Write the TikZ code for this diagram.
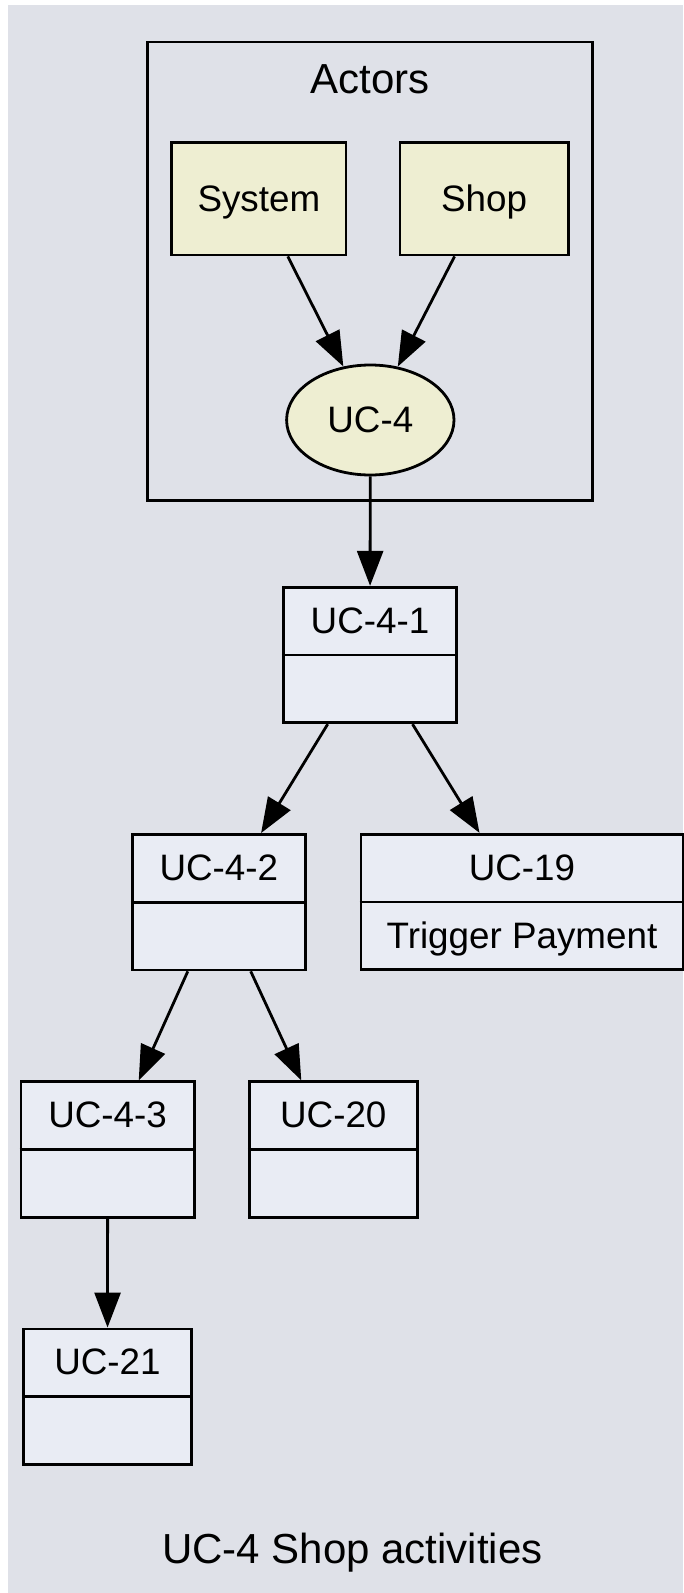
\documentclass[tikz,border=0pt]{standalone}
\usepackage{fontspec}
\setmainfont{Liberation Sans}
\usetikzlibrary{arrows.meta,shapes.geometric}
\definecolor{bgc}{HTML}{DFE1E8}
\definecolor{clsfill}{HTML}{E9ECF4}
\definecolor{actfill}{HTML}{EEEED2}
\begin{document}
\begin{tikzpicture}[x=1pt,y=-1pt,
  cls/.style={draw=black, line width=2.8pt, fill=clsfill, rectangle, inner sep=0pt, minimum height=135.5pt},
  actor/.style={draw=black, line width=2.8pt, fill=actfill, rectangle, inner sep=0pt, minimum height=112.3pt},
  txt/.style={anchor=base, inner sep=0pt, font=\fontsize{36.8pt}{40pt}\selectfont},
  big/.style={anchor=base, inner sep=0pt, font=\fontsize{42pt}{46pt}\selectfont},
  arr/.style={line width=2.8pt, -{Triangle[length=35pt,width=26pt]}},
  divider/.style={line width=2.8pt}]
\useasboundingbox (0,0) rectangle (683,1593);
\fill[bgc] (8,5) rectangle (683,1593);

% cluster
\node[draw=black, line width=2.8pt, rectangle, inner sep=0pt, minimum width=445.4pt, minimum height=458.6pt] (actors) at (370,271.3) {};
\node[big] (actorslbl) at (370,93.3) {Actors};

% actors
\node[actor, minimum width=174.3pt] (system) at (258.85,198.85) {};
\node[txt] (systemt) at (258.85,211) {System};
\node[actor, minimum width=168.3pt] (shop) at (484.15,198.85) {};
\node[txt] (shopt) at (484.15,211) {Shop};
\node[ellipse, draw=black, line width=2.8pt, fill=actfill, inner sep=0pt, minimum width=167.4pt, minimum height=110pt] (uc4) at (370.3,420) {};
\node[txt] (uc4t) at (370.3,432) {UC-4};

% classes
\node[cls, minimum width=173.4pt] (uc41) at (370,655) {};
\node[cls, minimum width=173pt] (uc42) at (218.8,902.2) {};
\node[cls, minimum width=322pt] (uc19) at (522,902) {};
\node[cls, minimum width=173.3pt] (uc43) at (107.65,1149.5) {};
\node[cls, minimum width=168pt] (uc20) at (333.3,1149.5) {};
\node[cls, minimum width=168.4pt] (uc21) at (107.5,1396.7) {};

\foreach \n in {uc41,uc42,uc19,uc43,uc20,uc21}
  \draw[divider] (\n.west) -- (\n.east);

\node[txt] (uc41t) at ([yshift=22pt]uc41.center) {UC-4-1};
\node[txt] (uc42t) at ([yshift=22pt]uc42.center) {UC-4-2};
\node[txt] (uc19t) at ([yshift=22pt]uc19.center) {UC-19};
\node[txt] (uc19b) at ([yshift=-46pt]uc19.center) {Trigger Payment};
\node[txt] (uc43t) at ([yshift=22pt]uc43.center) {UC-4-3};
\node[txt] (uc20t) at ([yshift=22pt]uc20.center) {UC-20};
\node[txt] (uc21t) at ([yshift=22pt]uc21.center) {UC-21};

% edges
\draw[arr] (system) -- (uc4);
\draw[arr] (shop) -- (uc4);
\draw[arr] (uc4) -- (uc41);
\draw[arr] (uc41) -- (uc42);
\draw[arr] (uc41) -- (uc19);
\draw[arr] (uc42) -- (uc43);
\draw[arr] (uc42) -- (uc20);
\draw[arr] (uc43) -- (uc21);

% caption
\node[big] (caption) at (352.5,1563.3) {UC-4 Shop activities};
\end{tikzpicture}
\end{document}
